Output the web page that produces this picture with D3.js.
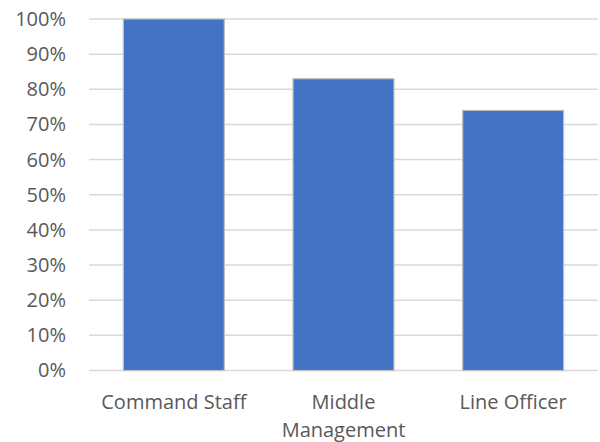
<!DOCTYPE html>
<html>
<head>
<meta charset="utf-8">
<script src="https://cdn.jsdelivr.net/npm/d3@7"></script>
<style>
  html, body { margin: 0; padding: 0; background: #fff; }
  svg { display: block; }
  text { font-family: "Open Sans", sans-serif; fill: #595959; }
</style>
</head>
<body>
<svg id="chart" width="600" height="442"></svg>
<script>
// Share of respondents by rank group
const categories = ["Command Staff", "Middle Management", "Line Officer"];
const values = [1.00, 0.83, 0.74];
const tickValues = [0, 0.1, 0.2, 0.3, 0.4, 0.5, 0.6, 0.7, 0.8, 0.9, 1.0];

const svg = d3.select("#chart");
const margin = { top: 19, right: 2, bottom: 71.5, left: 89 };
const width = 600 - margin.left - margin.right;
const height = 442 - margin.top - margin.bottom;

const g = svg.append("g").attr("transform", `translate(${margin.left},${margin.top})`);

const x = d3.scaleBand().domain(categories).range([0, width]).paddingInner(0.405).paddingOuter(0.2025);
const y = d3.scaleLinear().domain([0, 1]).range([height, 0]);

// Horizontal gridlines
g.append("g")
  .selectAll("line")
  .data(tickValues)
  .join("line")
  .attr("x1", 0)
  .attr("x2", width)
  .attr("y1", d => y(d))
  .attr("y2", d => y(d))
  .attr("stroke", "#d9d9d9")
  .attr("stroke-width", 1.5);

// Y axis labels
const yAxis = d3.axisLeft(y).tickValues(tickValues).tickFormat(d3.format(".0%")).tickSize(0).tickPadding(23);
const yg = g.append("g").call(yAxis);
yg.select(".domain").remove();
yg.selectAll("text").attr("font-size", 20).style("fill", "#595959").attr("font-family", "'Open Sans', sans-serif");

// Bars
g.append("g")
  .selectAll("rect")
  .data(values)
  .join("rect")
  .attr("x", (d, i) => x(categories[i]))
  .attr("width", x.bandwidth())
  .attr("y", d => y(d))
  .attr("height", d => height - y(d))
  .attr("fill", "#4472c4")
  .attr("stroke", "#bfbfbf")
  .attr("stroke-width", 1.2);

// Category labels, wrapped to fit the band
const maxLabelWidth = x.step() * 0.95;
const labels = g.append("g").attr("transform", `translate(0,${height})`);
categories.forEach(cat => {
  const t = labels.append("text")
    .attr("x", x(cat) + x.bandwidth() / 2)
    .attr("y", 38)
    .attr("text-anchor", "middle")
    .attr("font-size", 20);
  const words = cat.split(" ");
  let line = [];
  let tspan = t.append("tspan").attr("x", x(cat) + x.bandwidth() / 2).attr("dy", 0);
  words.forEach(w => {
    line.push(w);
    tspan.text(line.join(" "));
    if (tspan.node().getComputedTextLength() > maxLabelWidth && line.length > 1) {
      line.pop();
      tspan.text(line.join(" "));
      line = [w];
      tspan = t.append("tspan").attr("x", x(cat) + x.bandwidth() / 2).attr("dy", 28).text(w);
    }
  });
});
</script>
</body>
</html>
